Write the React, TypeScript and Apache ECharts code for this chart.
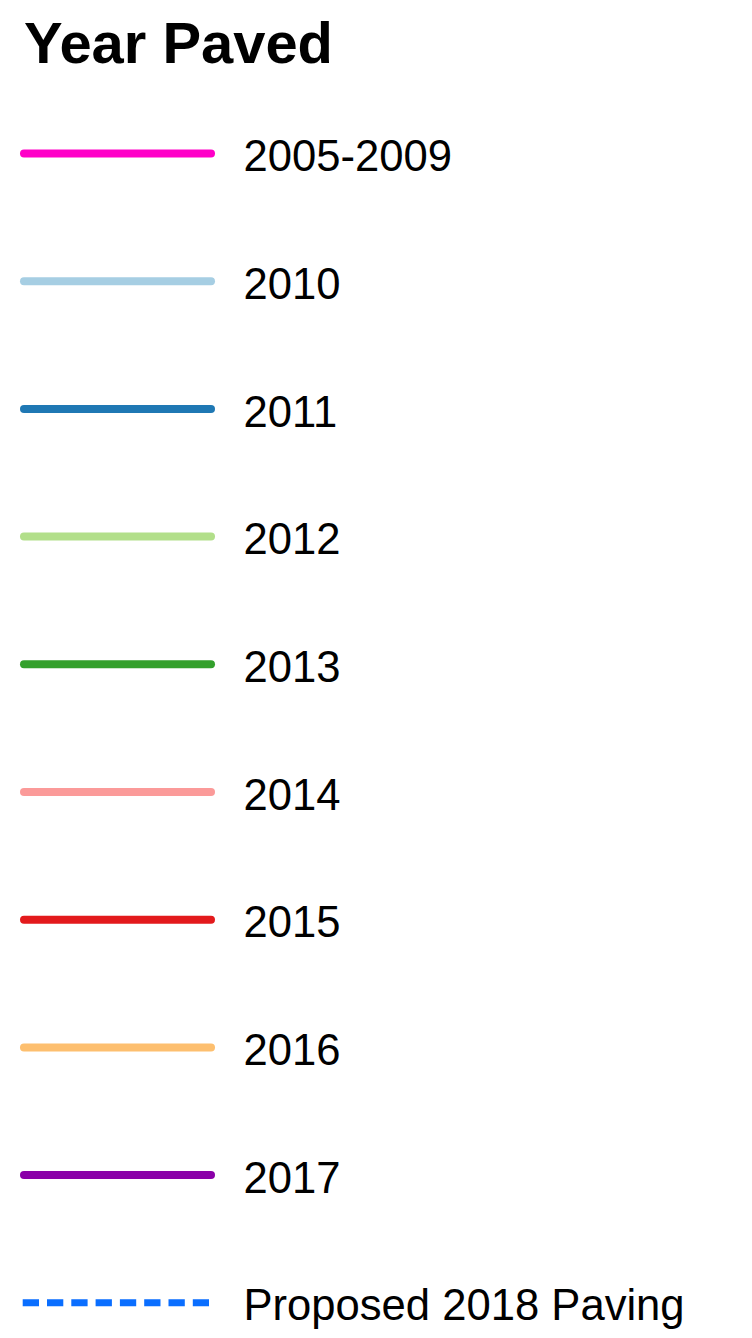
import React, { useEffect, useRef } from "react";
import * as echarts from "echarts";

const titleText = "Year Paved";
const legendLabels = [
  "2005-2009",
  "2010",
  "2011",
  "2012",
  "2013",
  "2014",
  "2015",
  "2016",
  "2017",
  "Proposed 2018 Paving",
];
const legendColors = [
  "#ff00c8",
  "#a6cee3",
  "#1f78b4",
  "#b2df8a",
  "#33a02c",
  "#fb9a99",
  "#e31a1c",
  "#fdbf6f",
  "#8a00a8",
  "#0a6eff",
];
const legendDashed = [false, false, false, false, false, false, false, false, false, true];

const FONT = '"Liberation Sans", Arial, Helvetica, sans-serif';

export default function App() {
  const ref = useRef<HTMLDivElement>(null);
  useEffect(() => {
    if (!ref.current) return;
    const chart = echarts.init(ref.current, undefined, { renderer: "svg" });
    const firstY = 145.5;
    const gap = 127.7;
    const elements: any[] = [
      {
        type: "text",
        x: 16,
        y: 35.3,
        style: {
          text: titleText,
          fill: "#000",
          font: `bold 57.9px ${FONT}`,
          verticalAlign: "middle",
          align: "left",
        },
      },
    ];
    legendLabels.forEach((label, i) => {
      const y = firstY + i * gap;
      const dashed = legendDashed[i];
      elements.push({
        type: "line",
        shape: dashed ? { x1: 14.7, y1: y, x2: 201, y2: y } : { x1: 16, y1: y, x2: 203, y2: y },
        style: {
          stroke: legendColors[i],
          lineWidth: dashed ? 7 : 8,
          lineCap: dashed ? "butt" : "round",
          lineDash: dashed ? [16.3, 8] : null,
        },
      });
      elements.push({
        type: "text",
        x: 235.5,
        y: y + 2.6,
        style: {
          text: label,
          fill: "#000",
          font: `43.6px ${FONT}`,
          verticalAlign: "middle",
          align: "left",
        },
      });
    });
    chart.setOption({
      animation: false,
      backgroundColor: "#fff",
      graphic: { elements },
    });
    return () => chart.dispose();
  }, []);
  return <div ref={ref} style={{ width: 736, height: 1322 }} />;
}
